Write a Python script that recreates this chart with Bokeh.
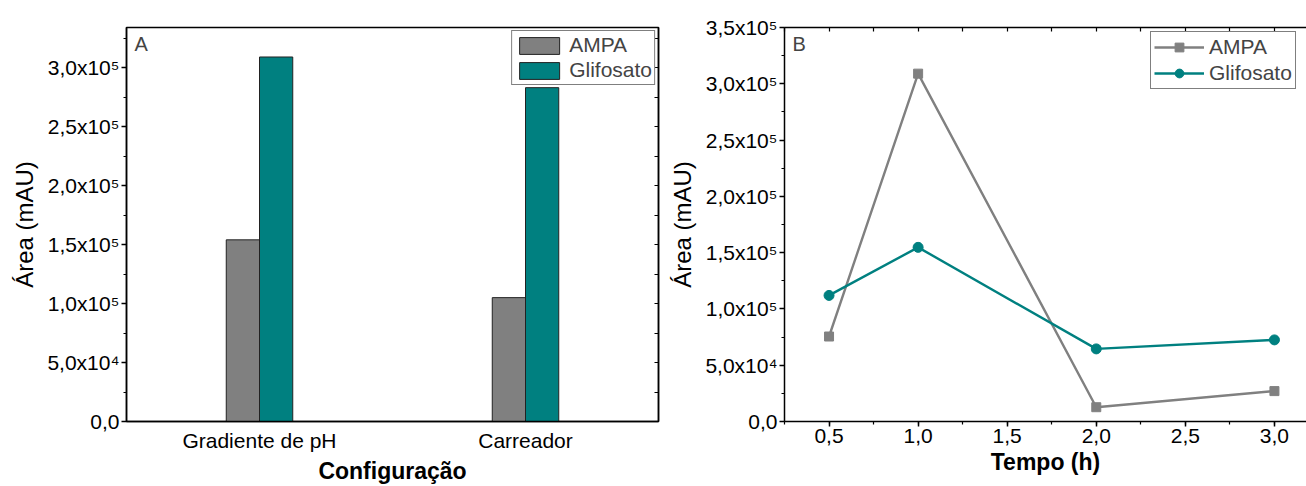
from bokeh.plotting import figure
from bokeh.layouts import row
from bokeh.models import (FactorRange, Range1d, SingleIntervalTicker, FixedTicker, LinearAxis,
                          Legend, LegendItem, Label, ColumnDataSource)
from bokeh.transform import dodge
from bokeh.embed import file_html
from bokeh.resources import INLINE

# ---------------- data ----------------
configs = ["Gradiente de pH", "Carreador"]
ampa_a = [1.54e5, 1.05e5]
glif_a = [3.09e5, 2.83e5]

tempo = [0.5, 1.0, 2.0, 3.0]
ampa_b = [7.55e4, 3.09e5, 1.27e4, 2.70e4]
glif_b = [1.12e5, 1.547e5, 6.45e4, 7.25e4]

y_tick_vals = [0, 50000, 100000, 150000, 200000, 250000, 300000, 350000]
y_tick_labels = ["0,0", "5,0x10\u2074", "1,0x10\u2075", "1,5x10\u2075", "2,0x10\u2075",
                 "2,5x10\u2075", "3,0x10\u2075", "3,5x10\u2075"]
y_minor_vals = [0, 25000, 50000, 75000, 100000, 125000, 150000, 175000, 200000,
                225000, 250000, 275000, 300000, 325000, 350000]
x_tick_vals_b = [0.5, 1.0, 1.5, 2.0, 2.5, 3.0]
x_tick_labels_b = ["0,5", "1,0", "1,5", "2,0", "2,5", "3,0"]
x_minor_vals_b = [0.25, 0.5, 0.75, 1.0, 1.25, 1.5, 1.75, 2.0, 2.25, 2.5, 2.75, 3.0]

GRAY = "#808080"
TEAL = "#008080"
FONT = "Liberation Sans"
TICK_FS = "21px"
YLAB_FS = "24px"
XLAB_FS = "23px"
LEG_FS = "21px"

y_overrides = dict(zip(y_tick_vals, y_tick_labels))
x_overrides_b = dict(zip(x_tick_vals_b, x_tick_labels_b))


def style_axis(ax):
    ax.axis_line_width = 1.5
    ax.axis_line_color = "black"
    ax.major_tick_line_width = 1.5
    ax.minor_tick_line_width = 1.2
    ax.major_tick_out = 5
    ax.major_tick_in = 0
    ax.minor_tick_out = 3
    ax.minor_tick_in = 0
    ax.major_label_text_font = FONT
    ax.major_label_text_font_size = TICK_FS
    ax.major_label_text_color = "black"
    ax.axis_label_text_font = FONT
    ax.axis_label_text_color = "black"
    ax.major_label_standoff = 2


def frame_axis(ax):
    # an unlabelled frame edge with inward ticks only
    ax.axis_line_width = 1.5
    ax.axis_line_color = "black"
    ax.minor_tick_in = 4
    ax.minor_tick_out = 0
    ax.minor_tick_line_width = 1.2
    ax.major_tick_in = 0
    ax.major_tick_out = 0
    ax.major_label_standoff = 0


# ---------------- panel A ----------------
src_a = ColumnDataSource(dict(cfg=configs, ampa=ampa_a, glif=glif_a))

pA = figure(width=660, height=486, x_range=FactorRange(*configs, range_padding=0),
            y_range=Range1d(0, 3.34e5), output_backend="svg", toolbar_location=None,
            min_border_left=126, min_border_right=2, min_border_top=24, min_border_bottom=62)
pA.xgrid.visible = False
pA.ygrid.visible = False
pA.outline_line_color = "black"
pA.outline_line_width = 1.5
pA.background_fill_color = "white"
pA.border_fill_color = "white"

rA1 = pA.vbar(x=dodge("cfg", -0.0625, range=pA.x_range), top="ampa", width=0.125, bottom=0,
              source=src_a, fill_color=GRAY, line_color="#222222", line_width=1)
rA2 = pA.vbar(x=dodge("cfg", 0.0625, range=pA.x_range), top="glif", width=0.125, bottom=0,
              source=src_a, fill_color=TEAL, line_color="#222222", line_width=1)

pA.yaxis.ticker = SingleIntervalTicker(interval=50000, num_minor_ticks=2)
pA.yaxis.major_label_overrides = y_overrides
pA.yaxis.axis_label = "Área (mAU)"
pA.yaxis.axis_label_text_font_size = YLAB_FS
pA.yaxis.axis_label_text_font_style = "normal"
pA.yaxis.axis_label_standoff = 6
pA.xaxis.axis_label = "Configuração"
pA.xaxis.axis_label_text_font_size = XLAB_FS
pA.xaxis.axis_label_text_font_style = "bold"
for ax in [pA.xaxis[0], pA.yaxis[0]]:
    style_axis(ax)
pA.xaxis.major_tick_line_color = None
pA.xaxis.major_tick_out = 0
pA.xaxis.major_label_standoff = 7
pA.xaxis.axis_label_standoff = 3

rightA = LinearAxis(ticker=FixedTicker(ticks=[], minor_ticks=y_minor_vals))
frame_axis(rightA)
pA.add_layout(rightA, "right")

legA = Legend(items=[LegendItem(label="AMPA", renderers=[rA1]),
                     LegendItem(label="Glifosato", renderers=[rA2])],
              location="top_right", margin=3, padding=2, spacing=1,
              glyph_width=50, glyph_height=21, label_standoff=5, label_height=21,
              label_text_font=FONT, label_text_font_size=LEG_FS,
              border_line_color="black", border_line_width=1,
              background_fill_color="white", background_fill_alpha=1)
pA.add_layout(legA)

pA.add_layout(Label(x=8, y=389, x_units="screen", y_units="screen", text="A",
                    text_font=FONT, text_font_size="20px", text_baseline="top"))

# ---------------- panel B ----------------
pB = figure(width=646, height=486, x_range=Range1d(0.25, 3.18), y_range=Range1d(0, 3.5e5),
            output_backend="svg", toolbar_location=None,
            min_border_left=124, min_border_right=0, min_border_top=27, min_border_bottom=62)
pB.xgrid.visible = False
pB.ygrid.visible = False
pB.outline_line_color = None
pB.background_fill_color = "white"
pB.border_fill_color = "white"

lB1 = pB.line(tempo, ampa_b, line_color=GRAY, line_width=2.4)
mB1 = pB.scatter(tempo, ampa_b, marker="square", size=9, fill_color=GRAY, line_color=GRAY)
lB2 = pB.line(tempo, glif_b, line_color=TEAL, line_width=2.4)
mB2 = pB.scatter(tempo, glif_b, marker="circle", size=10, fill_color=TEAL, line_color=TEAL)

pB.yaxis.ticker = SingleIntervalTicker(interval=50000, num_minor_ticks=2)
pB.yaxis.major_label_overrides = y_overrides
pB.yaxis.axis_label = "Área (mAU)"
pB.yaxis.axis_label_text_font_size = YLAB_FS
pB.yaxis.axis_label_text_font_style = "normal"
pB.xaxis.ticker = FixedTicker(ticks=x_tick_vals_b, minor_ticks=x_minor_vals_b)
pB.xaxis.major_label_overrides = x_overrides_b
pB.xaxis.axis_label = "Tempo (h)"
pB.xaxis.axis_label_text_font_size = XLAB_FS
pB.xaxis.axis_label_text_font_style = "bold"
for ax in [pB.xaxis[0], pB.yaxis[0]]:
    style_axis(ax)
pB.yaxis.axis_label_standoff = 6
pB.xaxis.axis_label_standoff = 3
pB.xaxis.major_label_standoff = 2

topB = LinearAxis(ticker=FixedTicker(ticks=[], minor_ticks=x_minor_vals_b))
frame_axis(topB)
pB.add_layout(topB, "above")

legB = Legend(items=[LegendItem(label="AMPA", renderers=[lB1, mB1]),
                     LegendItem(label="Glifosato", renderers=[lB2, mB2])],
              location=(366, 332), padding=3, spacing=2,
              glyph_width=50, glyph_height=22, label_standoff=5, label_height=22,
              label_text_font=FONT, label_text_font_size=LEG_FS,
              border_line_color="black", border_line_width=1,
              background_fill_color="white", background_fill_alpha=1)
pB.add_layout(legB)

pB.add_layout(Label(x=8, y=389, x_units="screen", y_units="screen", text="B",
                    text_font=FONT, text_font_size="20px", text_baseline="top"))

layout = row(pA, pB)
open("out.html", "w").write(file_html(layout, INLINE))
